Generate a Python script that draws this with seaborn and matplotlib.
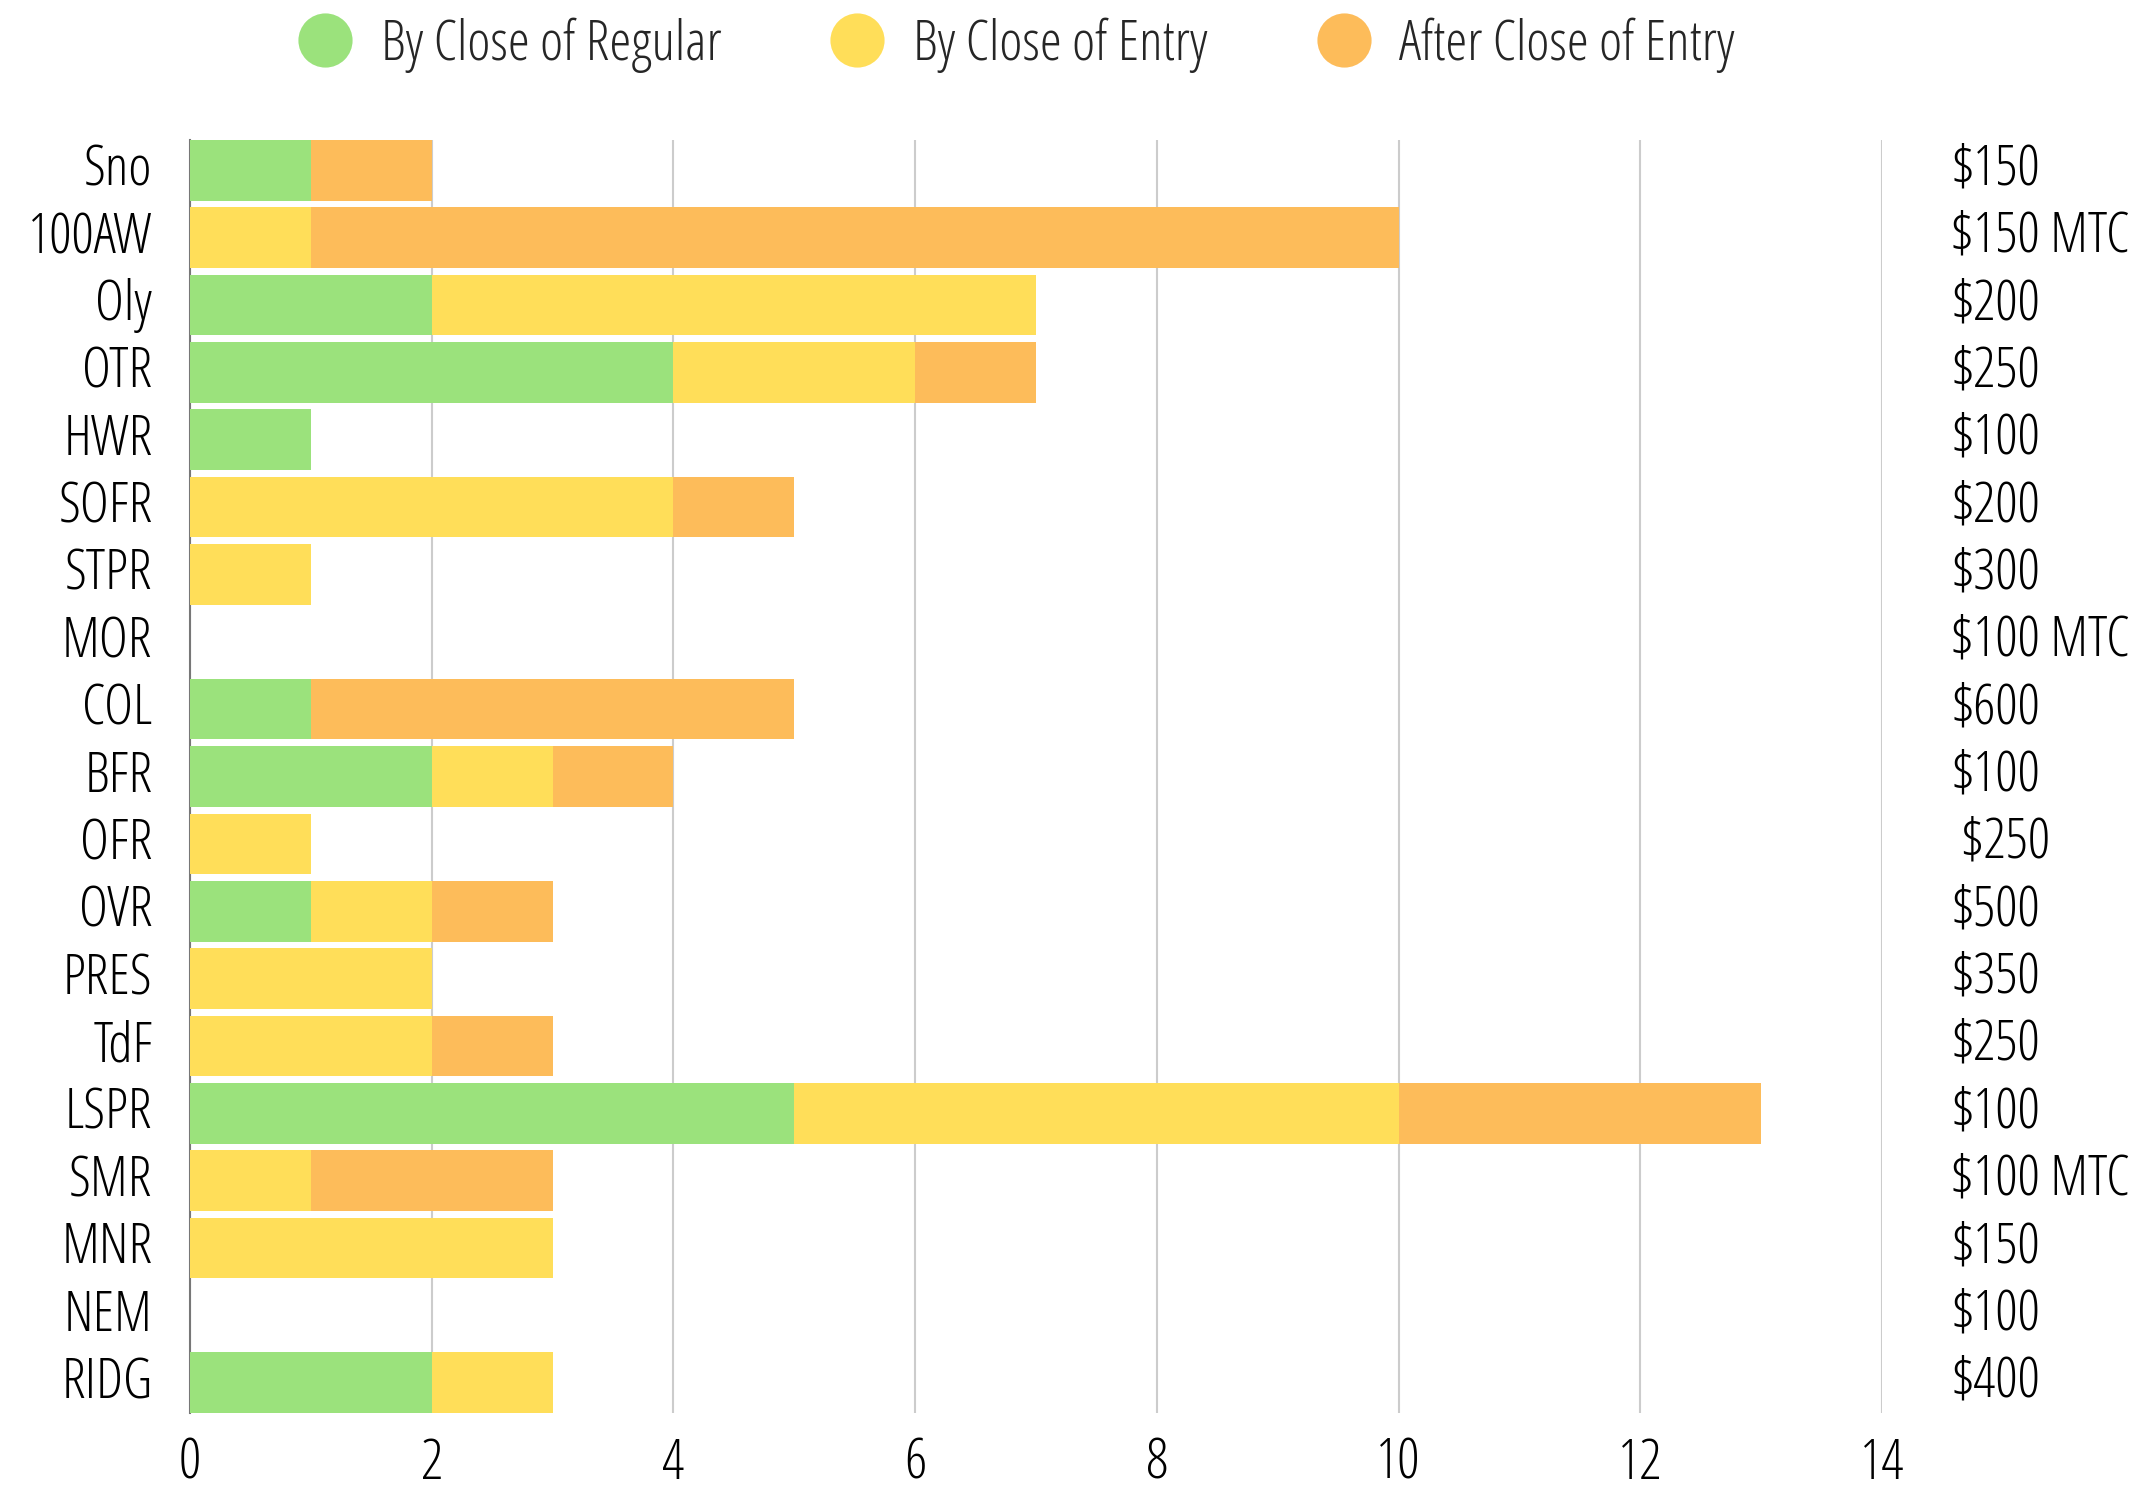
import matplotlib
matplotlib.use("Agg")
import matplotlib.pyplot as plt
from matplotlib import font_manager as fm
from matplotlib.lines import Line2D
import matplotlib.transforms as mtransforms
import seaborn as sns
import pandas as pd

# ---- data ----
races = ["Sno", "100AW", "Oly", "OTR", "HWR", "SOFR", "STPR", "MOR", "COL", "BFR",
         "OFR", "OVR", "PRES", "TdF", "LSPR", "SMR", "MNR", "NEM", "RIDG"]
by_close_regular = [1, 0, 2, 4, 1, 0, 0, 0, 1, 2, 0, 1, 0, 0, 5, 0, 0, 0, 2]
by_close_entry   = [0, 1, 5, 2, 0, 4, 1, 0, 0, 1, 1, 1, 2, 2, 5, 1, 3, 0, 1]
after_close      = [1, 9, 0, 1, 0, 1, 0, 0, 4, 1, 0, 1, 0, 1, 3, 2, 0, 0, 0]
prices = ["$150", "$150 MTC", "$200", "$250", "$100", "$200", "$300", "$100 MTC", "$600",
          "$100", " $250", "$500", "$350", "$250", "$100", "$100 MTC", "$150", "$100", "$400"]
series_names = ["By Close of Regular", "By Close of Entry", "After Close of Entry"]
x_ticks = [0, 2, 4, 6, 8, 10, 12, 14]

colors = ["#9BE27C", "#FFDE59", "#FDBC5A"]

# ---- font ----
def find_font(fnames):
    for want in fnames:
        for f in fm.fontManager.ttflist:
            if f.fname.split("/")[-1] == want:
                return f.fname
    return None

path = find_font(["OpenSans-CondLight.ttf", "RobotoCondensed-Light.ttf", "RobotoCondensed-Regular.ttf"])
FS = 40
fp = fm.FontProperties(fname=path, size=FS) if path else fm.FontProperties(family="DejaVu Sans", stretch="condensed", size=FS)

sns.set_theme(style="white")

df = pd.DataFrame({
    "race": races,
    "g": by_close_regular,
    "y": by_close_entry,
    "o": after_close,
})
df["gy"] = df["g"] + df["y"]
df["total"] = df["gy"] + df["o"]

fig = plt.figure(figsize=(21.33, 14.88), dpi=100)
ax = fig.add_axes([190 / 2133, 1 - 1413 / 1488, (1882 - 190) / 2133, (1413 - 140) / 1488])

BW = 0.9
sns.barplot(data=df, x="total", y="race", order=races, orient="h", color=colors[2],
            saturation=1, width=BW, errorbar=None, linewidth=0, ax=ax, zorder=3)
sns.barplot(data=df, x="gy", y="race", order=races, orient="h", color=colors[1],
            saturation=1, width=BW, errorbar=None, linewidth=0, ax=ax, zorder=3)
sns.barplot(data=df, x="g", y="race", order=races, orient="h", color=colors[0],
            saturation=1, width=BW, errorbar=None, linewidth=0, ax=ax, zorder=3)

ax.set_xlim(0, 14)
ax.set_ylim(len(races) - 1 + BW / 2, -BW / 2)
ax.set_xticks(x_ticks)
ax.set_xticklabels([str(t) for t in x_ticks], fontproperties=fp)
ax.set_yticks(range(len(races)))
ax.set_yticklabels(races, fontproperties=fp)
ax.set_xlabel("")
ax.set_ylabel("")
ax.tick_params(axis="both", length=0, colors="black")
ax.tick_params(axis="y", pad=27)
ax.tick_params(axis="x", pad=17)

# nudge y tick labels slightly upward
up = mtransforms.ScaledTranslation(0, 4 / 72, fig.dpi_scale_trans)
for lbl in ax.get_yticklabels():
    lbl.set_transform(lbl.get_transform() + up)

for s in ["top", "right", "bottom"]:
    ax.spines[s].set_visible(False)
ax.spines["left"].set_color("#777777")
ax.spines["left"].set_linewidth(1.5)
ax.spines["left"].set_zorder(2)

ax.grid(axis="x", color="#cccccc", linewidth=1.5, zorder=0)
ax.grid(axis="y", visible=False)
ax.set_axisbelow(True)

# right-side price labels
up2 = mtransforms.ScaledTranslation(0, 5 / 72, fig.dpi_scale_trans)
for i, p in enumerate(prices):
    ax.text((1951 - 190) / (1882 - 190), i, p, transform=ax.get_yaxis_transform() + up2,
            ha="left", va="center_baseline", fontproperties=fp, color="black")

# legend
handles = [Line2D([0], [0], marker="o", linestyle="none", markersize=39,
                  markerfacecolor=c, markeredgewidth=0) for c in colors]
fig.legend(handles, series_names, loc="center", bbox_to_anchor=(1016 / 2133, 1 - 45 / 1488),
           ncol=3, frameon=False, prop=fp, handlelength=1.0, handletextpad=0.5,
           columnspacing=1.95, borderpad=0, borderaxespad=0)

fig.savefig("out.png", dpi=100)
